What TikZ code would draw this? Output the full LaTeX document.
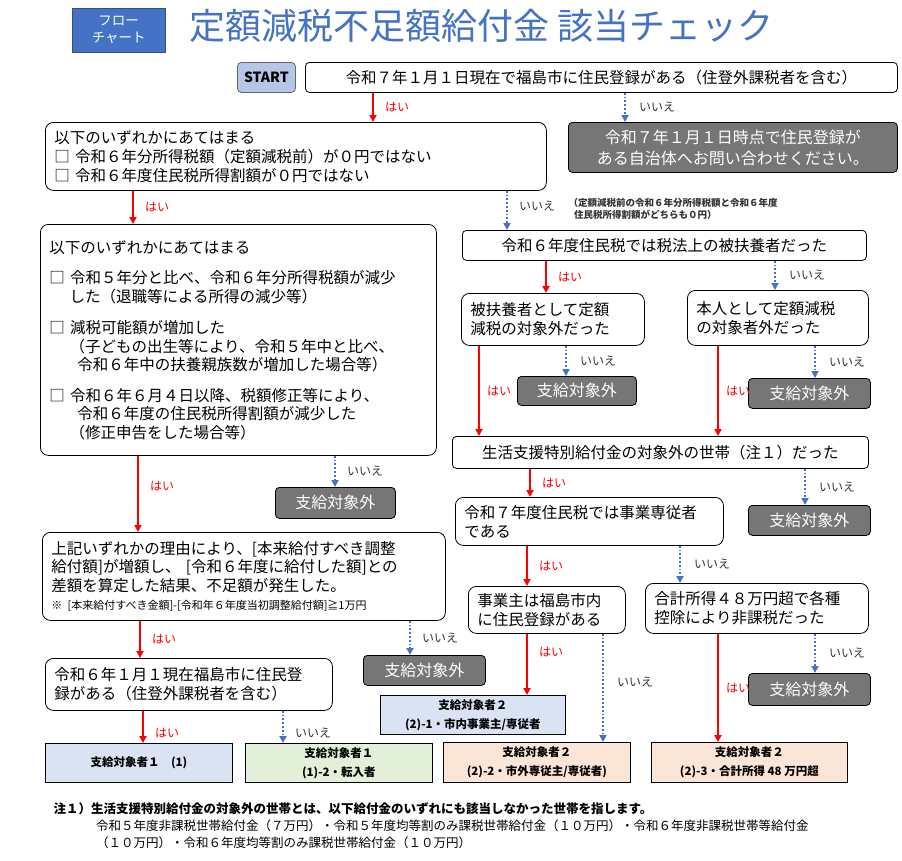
\documentclass[tikz,border=0pt]{standalone}
\usepackage{fontspec}
\setmainfont{Noto Sans CJK JP}
\usetikzlibrary{arrows.meta,positioning}
\definecolor{titleblue}{RGB}{68,114,196}
\definecolor{startblue}{RGB}{180,199,231}
\definecolor{greybox}{RGB}{118,118,118}
\definecolor{endblue}{RGB}{218,227,243}
\definecolor{endgreen}{RGB}{226,240,217}
\definecolor{endpeach}{RGB}{251,229,214}
\definecolor{noblue}{RGB}{68,114,196}

\begin{document}
\begin{tikzpicture}[x=1pt, y=-1pt,
    qbox/.style={draw, thick, rounded corners=8pt, fill=white, anchor=north west, inner sep=0pt, inner xsep=9pt, align=left, font=\fontsize{15.5}{19}\selectfont},
    ngbox/.style={draw, thick, rounded corners=4pt, fill=greybox, text=white, anchor=north west, inner sep=0pt, align=center, font=\fontsize{16}{21}\selectfont},
    endbox/.style={draw, thick, anchor=north west, inner sep=0pt, align=center, font=\fontsize{11.5}{19}\selectfont\bfseries},
    yesline/.style={draw=red, line width=1.8pt, -{Triangle[length=7pt,width=7pt]}},
    noline/.style={draw=noblue, line width=1.8pt, dotted, -{Triangle[length=7pt,width=7pt]}},
    yeslabel/.style={text=red, font=\fontsize{12}{14}\selectfont},
    nolabel/.style={text=black!80, font=\fontsize{12}{14}\selectfont}
]
\useasboundingbox (0,0) rectangle (902,860);

% Title
\node[fill=titleblue, draw=titleblue!70!black, anchor=north west, minimum width=93pt, minimum height=44pt, text=white, align=center, inner sep=0pt, font=\fontsize{13.5}{17}\selectfont] (flow) at (72,8) {フロー\\チャート};
\node[anchor=west, text=titleblue, font=\fontsize{36}{40}\selectfont] (title) at (186,26) {定額減税不足額給付金\ 該当チェック};

% Start
\node[draw=black!60, thick, fill=startblue, rounded corners=4pt, anchor=north west, minimum width=58pt, minimum height=30pt, inner sep=0pt, font=\fontsize{14}{16}\selectfont\bfseries] (start) at (237,62) {START};
\node[qbox, text width=574pt, minimum height=30pt, align=center, rounded corners=4pt] (q1) at (305,62) {令和７年１月１日現在で福島市に住民登録がある（住登外課税者を含む）};
\node[ngbox, minimum width=329pt, minimum height=50pt] (g1) at (568,122) {令和７年１月１日時点で住民登録が\\ある自治体へお問い合わせください。};

% Left column
\node[qbox, text width=483pt, minimum height=68pt] (q2) at (45,122) {以下のいずれかにあてはまる\\□ 令和６年分所得税額（定額減税前）が０円ではない\\□ 令和６年度住民税所得割額が０円ではない};
\node[qbox, text width=378pt, minimum height=231pt, font=\fontsize{15.5}{18.5}\selectfont] (q3) at (40,224) {以下のいずれかにあてはまる\\[12pt]
□ 令和５年分と比べ、令和６年分所得税額が減少\\\hspace*{1.3em}した（退職等による所得の減少等）\\[13pt]
□ 減税可能額が増加した\\\hspace*{1.3em}（子どもの出生等により、令和５年中と比べ、\\\hspace*{1.8em}令和６年中の扶養親族数が増加した場合等）\\[12pt]
□ 令和６年６月４日以降、税額修正等により、\\\hspace*{1.8em}令和６年度の住民税所得割額が減少した\\\hspace*{1.3em}（修正申告をした場合等）};
\node[ngbox, minimum width=120pt, minimum height=31pt] (g3) at (275,487) {支給対象外};
\node[qbox, text width=385pt, minimum height=88pt, font=\fontsize{15.5}{18.5}\selectfont] (q11) at (42,532) {上記いずれかの理由により、[本来給付すべき調整\\給付額]が増額し、 [令和６年度に給付した額]との\\差額を算定した結果、不足額が発生した。\\{\fontsize{11}{22}\selectfont ※ [本来給付すべき金額]-[令和年６年度当初調整給付額]≧1万円}};
\node[ngbox, minimum width=122pt, minimum height=30pt] (g11) at (363,655) {支給対象外};
\node[qbox, text width=269pt, minimum height=52pt] (q12) at (45,658) {令和６年１月１現在福島市に住民登\\録がある（住登外課税者を含む）};
\node[endbox, fill=endblue, minimum width=187pt, minimum height=39pt] (e1) at (45,743) {支給対象者１\quad(1)};
\node[endbox, fill=endgreen, minimum width=187pt, minimum height=39pt] (e12) at (245,743) {支給対象者１\\(1)-2・転入者};

% Right column
\node[qbox, text width=386pt, minimum height=30pt, align=center, rounded corners=4pt] (q4) at (462,230) {令和６年度住民税では税法上の被扶養者だった};
\node[qbox, text width=165pt, minimum height=52pt] (q5) at (461,293) {被扶養者として定額\\減税の対象外だった};
\node[qbox, text width=163pt, minimum height=55pt] (q6) at (687,290) {本人として定額減税\\の対象者外だった};
\node[ngbox, minimum width=119pt, minimum height=29pt] (g5) at (517,376) {支給対象外};
\node[ngbox, minimum width=122pt, minimum height=30pt] (g6) at (748,378) {支給対象外};
\node[qbox, text width=398pt, minimum height=32pt, align=center, rounded corners=4pt] (q7) at (452,436) {生活支援特別給付金の対象外の世帯（注１）だった};
\node[ngbox, minimum width=122pt, minimum height=30pt] (g7) at (748,505) {支給対象外};
\node[qbox, text width=250pt, minimum height=48pt] (q8) at (455,497) {令和７年度住民税では事業専従者\\である};
\node[qbox, text width=139pt, minimum height=47pt] (q9) at (468,586) {事業主は福島市内\\に住民登録がある};
\node[qbox, text width=205pt, minimum height=50pt] (q10) at (645,583) {合計所得４８万円超で各種\\控除により非課税だった};
\node[ngbox, minimum width=122pt, minimum height=32pt] (g10) at (748,673) {支給対象外};
\node[endbox, fill=endblue, minimum width=185pt, minimum height=39pt] (e21) at (380,695) {支給対象者２\\(2)-1・市内事業主/専従者};
\node[endbox, fill=endpeach, minimum width=187pt, minimum height=40pt] (e22) at (443,742) {支給対象者２\\(2)-2・市外専従主/専従者)};
\node[endbox, fill=endpeach, minimum width=196pt, minimum height=40pt] (e23) at (651,742) {支給対象者２\\(2)-3・合計所得 48 万円超};

% Yes connectors
\draw[yesline] (q1.south -| 373,0) -- (q2.north -| 373,0) node[yeslabel, midway, right=8pt] {はい};
\draw[yesline] (q2.south -| 133,0) -- (q3.north -| 133,0) node[yeslabel, midway, right=8pt] {はい};
\draw[yesline] (q3.south -| 138,0) -- (q11.north -| 138,0) node[yeslabel, pos=0.4, right=8pt] {はい};
\draw[yesline] (q11.south -| 140,0) -- (q12.north -| 140,0) node[yeslabel, midway, right=8pt] {はい};
\draw[yesline] (q12.south -| 143,0) -- (e1.north -| 143,0) node[yeslabel, pos=0.7, right=8pt] {はい};
\draw[yesline] (q4.south -| 546,0) -- (q5.north -| 546,0) node[yeslabel, midway, right=8pt] {はい};
\draw[yesline] (q5.south -| 479,0) -- (q7.north -| 479,0) node[yeslabel, midway, right=4pt] {はい};
\draw[yesline] (q6.south -| 718,0) -- (q7.north -| 718,0) node[yeslabel, midway, right=4pt] {はい};
\draw[yesline] (q7.south -| 530,0) -- (q8.north -| 530,0) node[yeslabel, midway, right=8pt] {はい};
\draw[yesline] (q8.south -| 527,0) -- (q9.north -| 527,0) node[yeslabel, midway, right=8pt] {はい};
\draw[yesline] (q9.south -| 527,0) -- (e21.north -| 527,0) node[yeslabel, pos=0.3, right=8pt] {はい};
\draw[yesline] (q10.south -| 718,0) -- (e23.north -| 718,0) node[yeslabel, pos=0.5, right=4pt] {はい};

% No connectors
\draw[noline] (q1.south -| 625,0) -- (g1.north -| 625,0) node[nolabel, midway, right=10pt] {いいえ};
\draw[noline] (q2.south -| 507,0) -- (q4.north -| 507,0) node[nolabel, midway, right=8pt, yshift=4pt] (nonote) {いいえ};
\node[anchor=west, align=left, text=black!80, font=\fontsize{9.5}{12}\selectfont\bfseries] (note2) at (565,209) {（定額減税前の令和６年分所得税額と令和６年度\\\hspace*{0.6em}住民税所得割額がどちらも０円）};
\draw[noline] (q3.south -| 335,0) -- (g3.north -| 335,0) node[nolabel, midway, right=8pt] {いいえ};
\draw[noline] (q11.south -| 410,0) -- (g11.north -| 410,0) node[nolabel, midway, right=8pt] {いいえ};
\draw[noline] (q12.south -| 283,0) -- (e12.north -| 283,0) node[nolabel, pos=0.7, right=8pt] {いいえ};
\draw[noline] (q4.south -| 775,0) -- (q6.north -| 775,0) node[nolabel, midway, right=10pt] {いいえ};
\draw[noline] (q5.south -| 566,0) -- (g5.north -| 566,0) node[nolabel, midway, right=10pt] {いいえ};
\draw[noline] (q6.south -| 815,0) -- (g6.north -| 815,0) node[nolabel, midway, right=10pt] {いいえ};
\draw[noline] (q7.south -| 805,0) -- (g7.north -| 805,0) node[nolabel, midway, right=10pt] {いいえ};
\draw[noline] (q8.south -| 680,0) -- (q10.north -| 680,0) node[nolabel, midway, right=10pt] {いいえ};
\draw[noline] (q9.south -| 603,0) -- (e22.north -| 603,0) node[nolabel, pos=0.45, right=10pt] {いいえ};
\draw[noline] (q10.south -| 815,0) -- (g10.north -| 815,0) node[nolabel, midway, right=10pt] {いいえ};

% Footnote
\node[anchor=north west, align=left, font=\fontsize{12.5}{17}\selectfont\bfseries] (foot) at (50,799) {注１）生活支援特別給付金の対象外の世帯とは、以下給付金のいずれにも該当しなかった世帯を指します。\\
\hspace*{3.4em}{\mdseries 令和５年度非課税世帯給付金（７万円）・令和５年度均等割のみ課税世帯給付金（１０万円）・令和６年度非課税世帯等給付金}\\
\hspace*{3.4em}{\mdseries （１０万円）・令和６年度均等割のみ課税世帯給付金（１０万円）}};

\end{tikzpicture}
\end{document}
